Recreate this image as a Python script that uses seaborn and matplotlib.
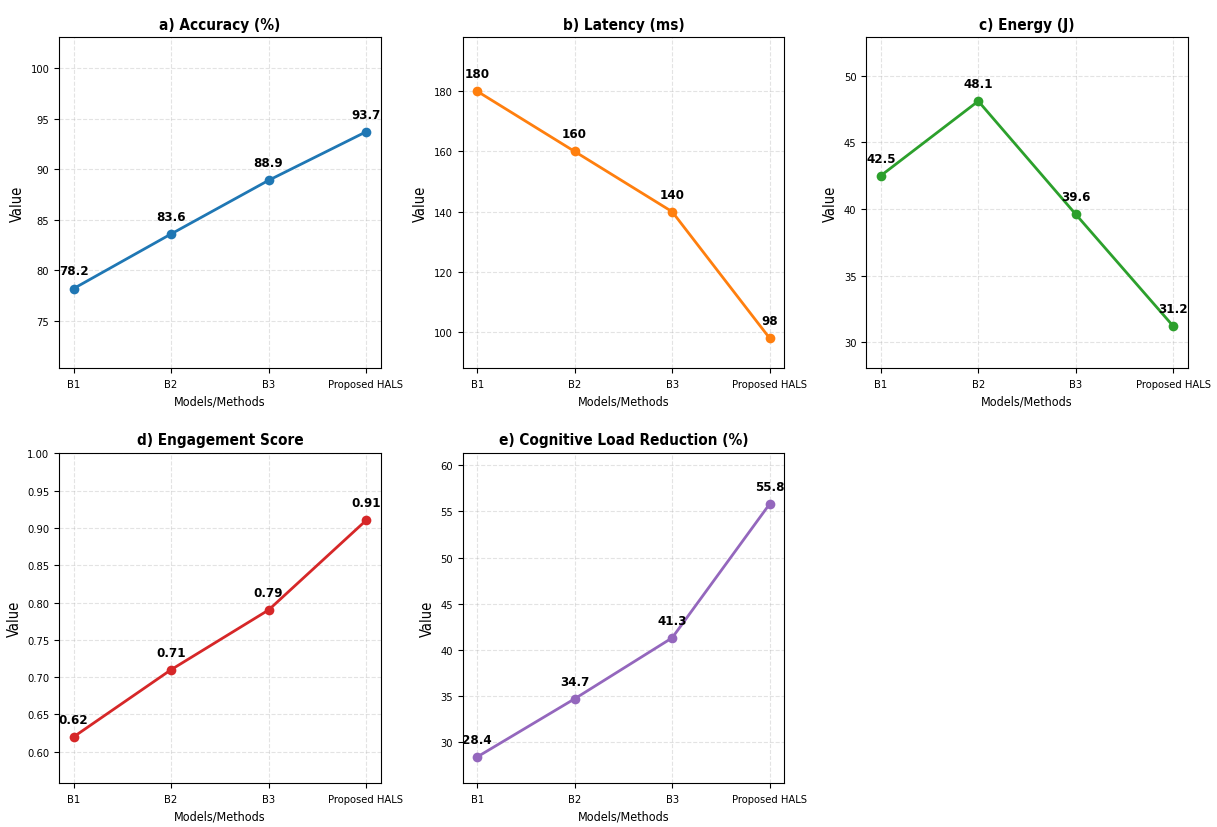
import numpy as np
import matplotlib
matplotlib.use("Agg")
import matplotlib.pyplot as plt
import seaborn as sns
import pandas as pd

# data
models = ["B1", "B2", "B3", "Proposed HALS"]
accuracy = [78.2, 83.6, 88.9, 93.7]
latency = [180, 160, 140, 98]
energy = [42.5, 48.1, 39.6, 31.2]
engagement = [0.62, 0.71, 0.79, 0.91]
cog_load = [28.4, 34.7, 41.3, 55.8]

titles = ["a) Accuracy (%)", "b) Latency (ms)", "c) Energy (J)",
          "d) Engagement Score", "e) Cognitive Load Reduction (%)"]
labels = ["78.2 83.6 88.9 93.7", "180 160 140 98", "42.5 48.1 39.6 31.2",
          "0.62 0.71 0.79 0.91", "28.4 34.7 41.3 55.8"]
colors = ["#1f77b4", "#ff7f0e", "#2ca02c", "#d62728", "#9467bd"]
series = [accuracy, latency, energy, engagement, cog_load]

plt.rcParams["font.family"] = ["DejaVu Sans"]
plt.rcParams["font.stretch"] = "condensed"

fig, axes = plt.subplots(2, 3, figsize=(12.17, 8.28), dpi=100)
fig.subplots_adjust(left=0.0485, right=0.976, top=0.954, bottom=0.053,
                    wspace=0.255, hspace=0.257)

for i, ax in enumerate(axes.flat):
    if i >= len(series):
        ax.axis("off")
        continue
    vals = series[i]
    df = pd.DataFrame({"Model": models, "Value": vals})
    df["pos"] = np.arange(len(models))
    sns.lineplot(data=df, x="pos", y="Value", ax=ax, color=colors[i],
                 marker="o", markersize=7, markeredgewidth=0, linewidth=2)
    for x, v, txt in zip(df["pos"], vals, labels[i].split()):
        ax.annotate(txt, (x, v), xytext=(0, 8), textcoords="offset points",
                    ha="center", va="bottom", fontsize=9.5, fontweight="bold")
    ax.set_xticks(df["pos"])
    ax.set_xticklabels(models, fontsize=8)
    ax.tick_params(axis="y", labelsize=8)
    ax.tick_params(axis="x", pad=4.5)
    ax.set_ylim(min(vals) * 0.9, max(vals) * 1.1)
    ax.set_title(titles[i], fontsize=11, fontweight="bold")
    ax.set_xlabel("Models/Methods", fontsize=9)
    ax.set_ylabel("Value", fontsize=10.5)
    ax.grid(True, linestyle="--", alpha=0.35)

fig.savefig("out.png", dpi=100)
